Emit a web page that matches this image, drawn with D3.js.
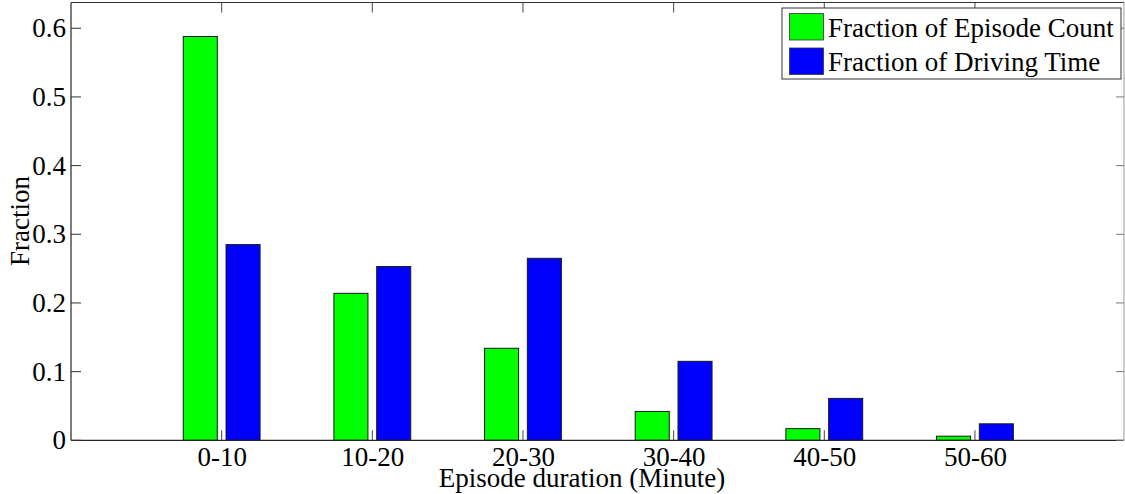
<!DOCTYPE html>
<html>
<head>
<meta charset="utf-8">
<script src="https://cdn.jsdelivr.net/npm/d3@7"></script>
<style>
  body { margin: 0; background: #fff; }
  svg text { font-family: "Liberation Serif", Tinos, "Times New Roman", "DejaVu Serif", serif; }
</style>
</head>
<body>
<div id="chart"></div>
<script>
const categories = ["0-10", "10-20", "20-30", "30-40", "40-50", "50-60"];
const episodeCount = [0.588, 0.214, 0.134, 0.042, 0.017, 0.006];
const drivingTime = [0.285, 0.253, 0.265, 0.115, 0.061, 0.024];
const seriesNames = ["Fraction of Episode Count", "Fraction of Driving Time"];
const seriesColors = ["#00ff00", "#0000ff"];
const yTicks = [0, 0.1, 0.2, 0.3, 0.4, 0.5, 0.6];

const width = 1125, height = 494;
const fontSize = 27;
const serif = "'Liberation Serif', Tinos, 'Times New Roman', 'DejaVu Serif', serif";

const svg = d3.select("#chart").append("svg")
    .attr("width", width)
    .attr("height", height)
    .attr("font-family", serif);

// axis limits like matlab: x 0..7, y 0..~0.637
const x = d3.scaleLinear().domain([0, categories.length + 1]).range([71, 1125.6]);
const y = d3.scaleLinear().domain([0, 0.6375]).range([440.3, 2.5]);

const axLeft = 71, axRight = 1124, axTop = y.range()[1], axBottom = y.range()[0];

const barW = 0.226;   // bar width in x units
const offset = 0.142; // distance from category center

const series = [episodeCount, drivingTime];

series.forEach((vals, s) => {
    svg.append("g").selectAll("rect")
        .data(vals)
        .enter().append("rect")
        .attr("x", (d, i) => x(i + 1 + (s === 0 ? -offset : offset) - barW / 2))
        .attr("y", d => y(d))
        .attr("width", x(barW) - x(0))
        .attr("height", d => y(0) - y(d))
        .attr("fill", seriesColors[s])
        .attr("stroke", "#1a1a1a")
        .attr("stroke-width", 1);
});

// frame
svg.append("line").attr("x1", axLeft).attr("x2", axLeft).attr("y1", axTop).attr("y2", axBottom)
    .attr("stroke", "#262626").attr("stroke-width", 1.2);
svg.append("line").attr("x1", axLeft).attr("x2", axRight).attr("y1", axBottom).attr("y2", axBottom)
    .attr("stroke", "#262626").attr("stroke-width", 1.2);
svg.append("line").attr("x1", axLeft).attr("x2", axRight).attr("y1", axTop).attr("y2", axTop)
    .attr("stroke", "#333").attr("stroke-width", 1);
svg.append("line").attr("x1", axRight).attr("x2", axRight).attr("y1", axTop).attr("y2", axBottom)
    .attr("stroke", "#999").attr("stroke-width", 1);

// y ticks (inside, both sides)
const yt = svg.append("g");
yTicks.forEach(t => {
    yt.append("line").attr("x1", axLeft).attr("x2", axLeft + 10).attr("y1", y(t)).attr("y2", y(t))
        .attr("stroke", "#333");
    yt.append("line").attr("x1", axRight - 8).attr("x2", axRight).attr("y1", y(t)).attr("y2", y(t))
        .attr("stroke", "#777");
    yt.append("text")
        .attr("x", axLeft - 5)
        .attr("y", y(t) + 9)
        .attr("text-anchor", "end")
        .attr("font-family", serif)
        .style("font-size", fontSize + "px")
        .text(t === 0 ? "0" : d3.format(".1f")(t));
});

// x ticks (inside, top and bottom)
const xt = svg.append("g");
categories.forEach((c, i) => {
    const cx = x(i + 1);
    xt.append("line").attr("x1", cx).attr("x2", cx).attr("y1", axBottom).attr("y2", axBottom - 10)
        .attr("stroke", "#444");
    xt.append("line").attr("x1", cx).attr("x2", cx).attr("y1", axTop).attr("y2", axTop + 10)
        .attr("stroke", "#444");
    xt.append("text")
        .attr("x", cx + 0.5)
        .attr("y", 466)
        .attr("text-anchor", "middle")
        .attr("font-family", serif)
        .style("font-size", fontSize + "px")
        .text(c);
});

// axis titles
svg.append("text")
    .attr("x", 582)
    .attr("y", 487)
    .attr("text-anchor", "middle")
    .attr("font-family", serif)
    .style("font-size", fontSize + "px")
    .text("Episode duration (Minute)");

svg.append("text")
    .attr("transform", "translate(29,221) rotate(-90)")
    .attr("text-anchor", "middle")
    .attr("font-family", serif)
    .style("font-size", fontSize + "px")
    .text("Fraction");

// legend
const legend = svg.append("g");
legend.append("rect")
    .attr("x", 782).attr("y", 8)
    .attr("width", 339).attr("height", 71)
    .attr("fill", "#fff")
    .attr("stroke", "#333")
    .attr("stroke-width", 1);

seriesNames.forEach((name, i) => {
    legend.append("rect")
        .attr("x", 789.5).attr("y", 13.5 + i * 34.5)
        .attr("width", 34).attr("height", 26.5)
        .attr("fill", seriesColors[i])
        .attr("stroke", "#333")
        .attr("stroke-width", 0.8);
    legend.append("text")
        .attr("x", 828)
        .attr("y", 37 + i * 33.5)
        .attr("font-family", serif)
        .style("font-size", fontSize + "px")
        .text(name);
});
</script>
</body>
</html>
